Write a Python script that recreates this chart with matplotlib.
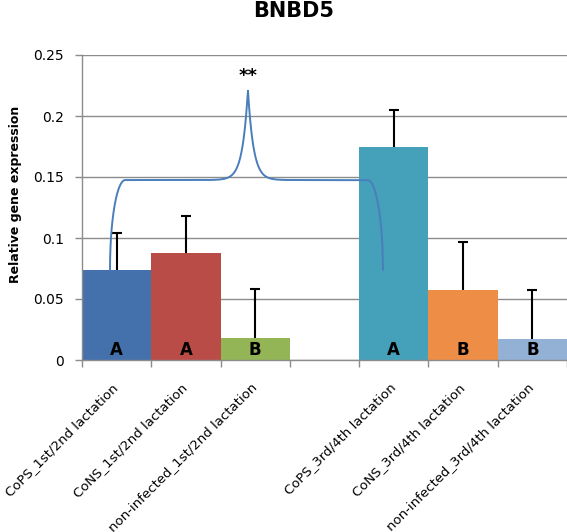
import numpy as np
import matplotlib
matplotlib.use("Agg")
import matplotlib.pyplot as plt
from matplotlib.transforms import ScaledTranslation

plt.rcParams['font.family'] = ['DejaVu Sans']

categories = ["CoPS_1st/2nd lactation", "CoNS_1st/2nd lactation",
              "non-infected_1st/2nd lactation", "",
              "CoPS_3rd/4th lactation", "CoNS_3rd/4th lactation",
              "non-infected_3rd/4th lactation"]
values = [0.074, 0.088, 0.018, None, 0.175, 0.057, 0.017]
errors = [0.030, 0.030, 0.040, None, 0.030, 0.040, 0.040]
letters = ["A", "A", "B", "", "A", "B", "B"]
colors = ["#4470AB", "#BA4C48", "#93B555", "None", "#45A1BA", "#EE8D45", "#93B0D5"]
yticks = [0, 0.05, 0.1, 0.15, 0.2, 0.25]
ytick_labels = ["0", "0.05", "0.1", "0.15", "0.2", "0.25"]

# significance brace: left end, peak, right end (data coords)
brace_x = [-0.096, 1.895, 3.843]
brace_y = [0.074, 0.1475, 0.2213]
sig_label = "**"

fig = plt.figure(figsize=(5.67, 5.32), dpi=100)
ax = fig.add_axes([82/567, 1-360/532, 485/567, 305/532])

grid_c = "#8C8C8C"
idx = [i for i, v in enumerate(values) if v is not None]
x = np.array(idx)
v = np.array([values[i] for i in idx])
e = np.array([errors[i] for i in idx])
c = [colors[i] for i in idx]

ax.set_axisbelow(True)
ax.yaxis.grid(True, color=grid_c, lw=1.0)
ax.bar(x, v, width=1.0, color=c, edgecolor="none", zorder=2)
eb = ax.errorbar(x, v, yerr=[np.zeros_like(e), e], fmt="none", ecolor="black",
                 elinewidth=1.5, capsize=3.3, capthick=1.5, zorder=3)
eb[1][0].set_visible(False)  # hide lower caps
for i in idx:
    ax.text(i, 0.0041, letters[i], ha="center", va="baseline", fontsize=12,
            fontweight="bold", color="black", zorder=4)

# brace
x0, xp, x1 = brace_x
yb, ym, ypk = brace_y
w = 0.22
th = np.linspace(0, np.pi/2, 60)
lx = x0 + w*(1-np.cos(th)); ly = yb + (ym-yb)*np.sin(th)
mx = np.linspace(x0+w, x1-w, 1500)
my = ym + (ypk-ym)*np.exp(-np.abs(mx-xp)/0.08)
rx = x1 - w*(1-np.cos(th[::-1])); ry = yb + (ym-yb)*np.sin(th[::-1])
bx = np.concatenate([lx, mx, rx]); by = np.concatenate([ly, my, ry])
ax.plot(bx, by, color="#4A7EBB", lw=1.4, zorder=5)
ax.text(xp, 0.2285, sig_label, ha="center", va="baseline", fontsize=13,
        fontweight="bold")

ax.set_xlim(-0.5, 6.5)
ax.set_ylim(0, 0.25)
ax.set_yticks(yticks)
ax.set_yticklabels(ytick_labels, fontsize=10)
ax.tick_params(axis="y", length=5, color=grid_c, width=1.0, pad=8)
ax.set_xticks(range(len(categories)))
ax.set_xticklabels(categories, rotation=45, ha="right", va="top",
                   rotation_mode="anchor", fontsize=9.5)
ax.set_xticks(np.arange(-0.5, 7.0, 1.0), minor=True)
ax.tick_params(axis="x", which="major", length=0, pad=15)
ax.tick_params(axis="x", which="minor", length=5, color=grid_c, width=1.0)
shift = ScaledTranslation(-5/100, 0, fig.dpi_scale_trans)
for lbl in ax.get_xticklabels():
    lbl.set_transform(lbl.get_transform() + shift)
for s in ["top", "right"]:
    ax.spines[s].set_visible(False)
for s in ["left", "bottom"]:
    ax.spines[s].set_color(grid_c)
    ax.spines[s].set_linewidth(1.0)

fig.text(294/567, 1-16.7/532, "BNBD5", ha="center", va="baseline",
         fontsize=15, fontweight="bold")
fig.text(16/567, 1-194/532, "Relative gene expression", rotation=90,
         ha="center", va="center", fontsize=9, fontweight="bold")

fig.savefig("out.png", dpi=100)
